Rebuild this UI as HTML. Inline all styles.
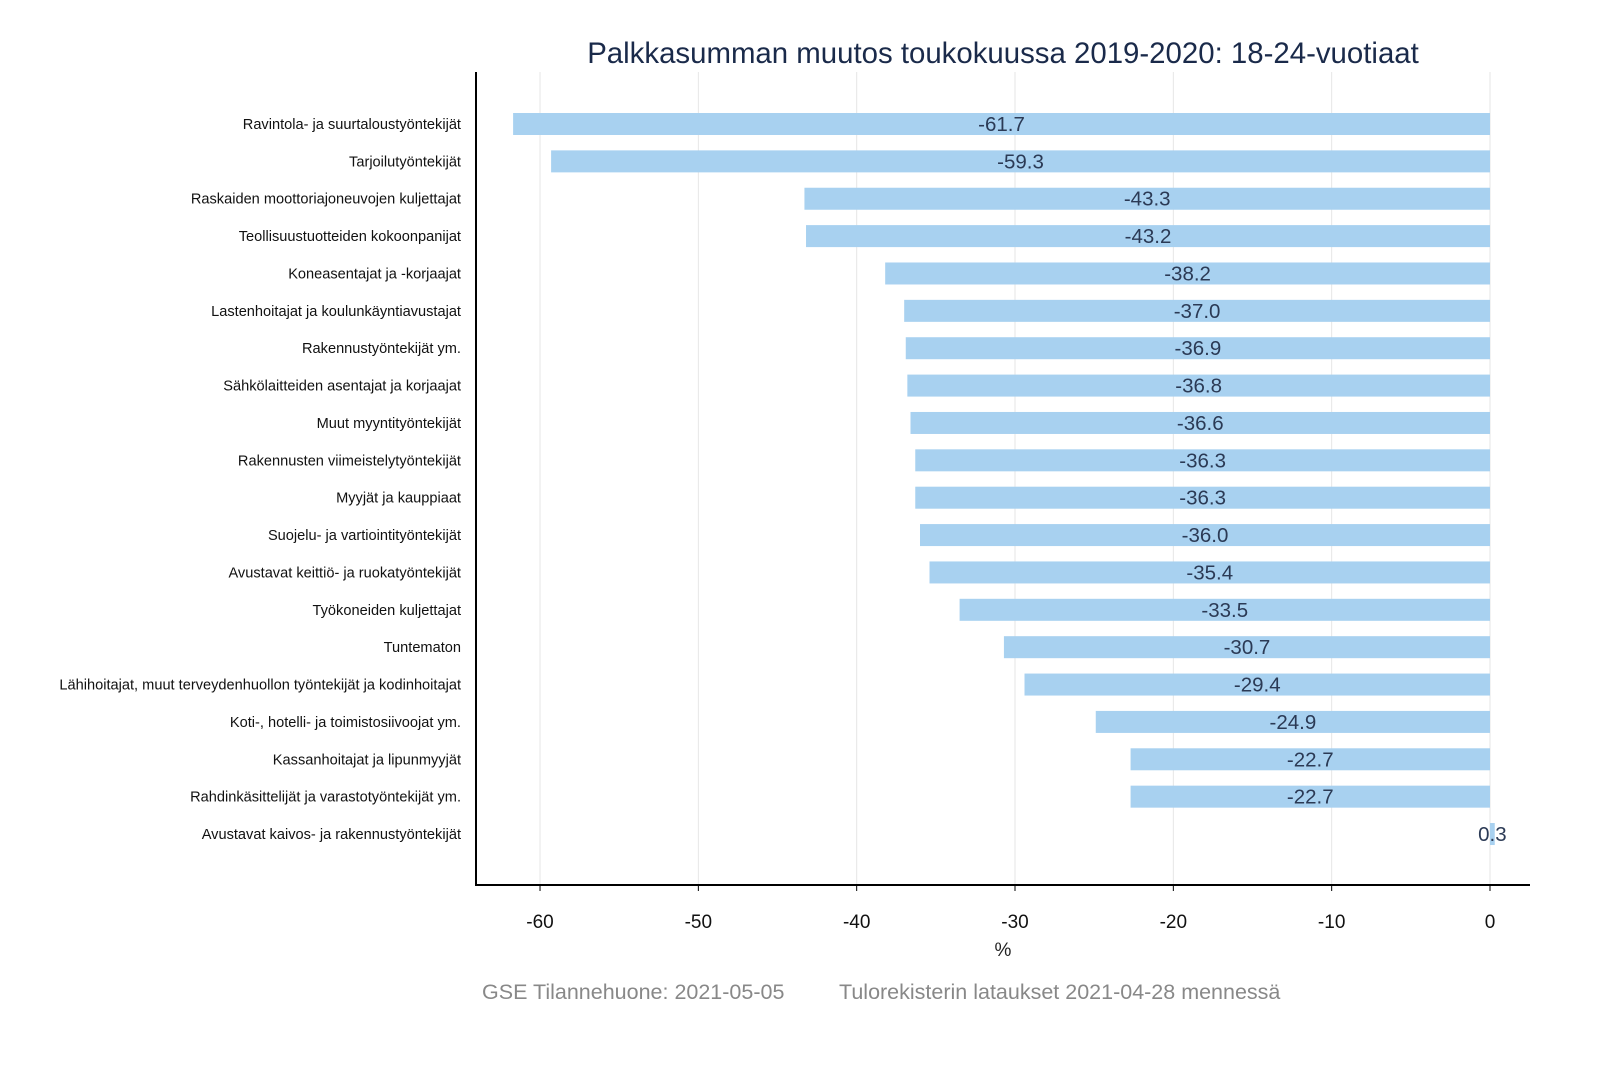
<!DOCTYPE html>
<html><head><meta charset="utf-8"><style>
body{margin:0;background:#fff;width:1600px;height:1067px;overflow:hidden}
svg text{font-family:"Liberation Sans",sans-serif}
</style></head><body>
<svg id="chart" width="1600" height="1067" xmlns="http://www.w3.org/2000/svg">
<text x="1003" y="63" text-anchor="middle" font-size="29.4" fill="#1a2a4a">Palkkasumman muutos toukokuussa 2019-2020: 18-24-vuotiaat</text>
<g id="grid"></g><g id="bars"></g><g id="axes"></g>
<text x="1003" y="956" text-anchor="middle" font-size="19" fill="#222">%</text>
<text x="482" y="999" font-size="21.5" fill="#888">GSE Tilannehuone: 2021-05-05</text>
<text x="839" y="999" font-size="21.5" fill="#888">Tulorekisterin lataukset 2021-04-28 mennessä</text>
</svg>
<script>
const categories=["Ravintola- ja suurtaloustyöntekijät","Tarjoilutyöntekijät","Raskaiden moottoriajoneuvojen kuljettajat","Teollisuustuotteiden kokoonpanijat","Koneasentajat ja -korjaajat","Lastenhoitajat ja koulunkäyntiavustajat","Rakennustyöntekijät ym.","Sähkölaitteiden asentajat ja korjaajat","Muut myyntityöntekijät","Rakennusten viimeistelytyöntekijät","Myyjät ja kauppiaat","Suojelu- ja vartiointityöntekijät","Avustavat keittiö- ja ruokatyöntekijät","Työkoneiden kuljettajat","Tuntematon","Lähihoitajat, muut terveydenhuollon työntekijät ja kodinhoitajat","Koti-, hotelli- ja toimistosiivoojat ym.","Kassanhoitajat ja lipunmyyjät","Rahdinkäsittelijät ja varastotyöntekijät ym.","Avustavat kaivos- ja rakennustyöntekijät"];
const values=[-61.7,-59.3,-43.3,-43.2,-38.2,-37.0,-36.9,-36.8,-36.6,-36.3,-36.3,-36.0,-35.4,-33.5,-30.7,-29.4,-24.9,-22.7,-22.7,0.3];
const ticks=[-60,-50,-40,-30,-20,-10,0];
const NS="http://www.w3.org/2000/svg";
const x=v=>1490+v*15.833;
const y=i=>124+i*37.37;
function mk(t,a,p){const e=document.createElementNS(NS,t);for(const k in a)e.setAttribute(k,a[k]);document.getElementById(p).appendChild(e);return e;}
ticks.forEach(t=>{
 const g=mk('line',{x1:x(t),x2:x(t),y1:72,y2:885,stroke:'#e6e6e6','stroke-width':1},'grid');
 
 
 const tk=mk('line',{x1:x(t),x2:x(t),y1:885,y2:891,stroke:'#000'},'axes');
 
 
 const l=mk('text',{x:x(t),y:928,'text-anchor':'middle','font-size':19,fill:'#111'},'axes');
 l.textContent=t;
 
 
});
categories.forEach((c,i)=>{
 const v=values[i];const x0=Math.min(x(0),x(v)),w=Math.abs(x(v)-x(0));
 const r=mk('rect',{x:x0,y:y(i)-11,width:Math.max(w,1),height:22,fill:'#a8d1f0'},'bars');
 
 
 const vl=mk('text',{x:(x(0)+x(v))/2,y:y(i)+7,'text-anchor':'middle','font-size':20.5,fill:'#2b3a55'},'bars');
 vl.textContent=v.toFixed(1);
 
 
 const cl=mk('text',{x:461,y:y(i)+5,'text-anchor':'end','font-size':14.6,fill:'#111'},'axes');
 cl.textContent=c;
 
 
});
const ya=mk('line',{x1:476,x2:476,y1:72,y2:886,stroke:'#000','stroke-width':2},'axes');


const xa=mk('line',{x1:475,x2:1530,y1:885,y2:885,stroke:'#000','stroke-width':2},'axes');


</script>
</body></html>
